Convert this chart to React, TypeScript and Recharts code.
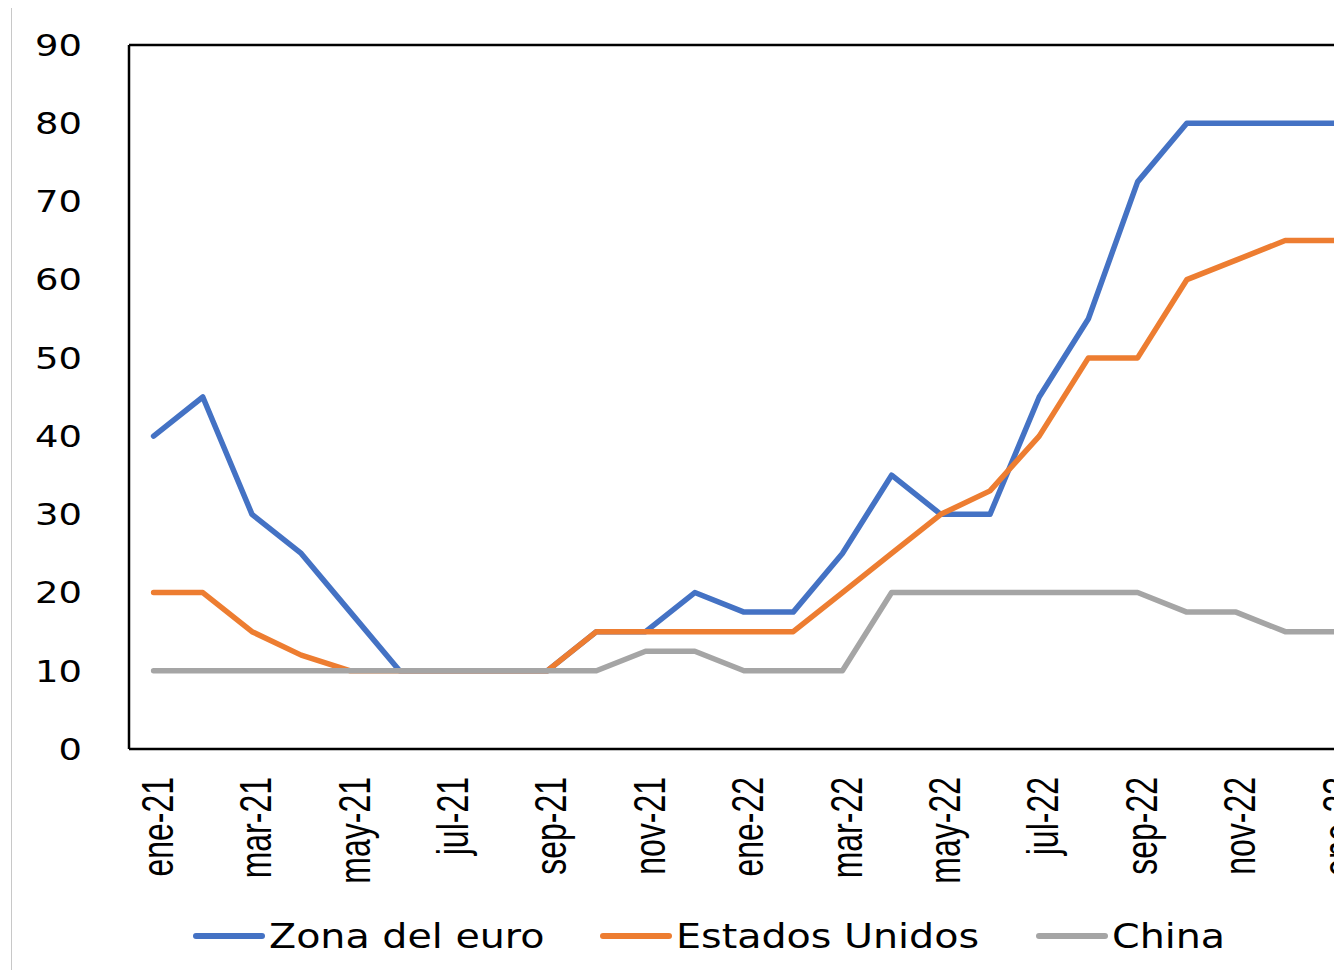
import { LineChart, Line, XAxis, YAxis, ReferenceLine } from "recharts"

const months = [
  "ene-21","feb-21","mar-21","abr-21","may-21","jun-21","jul-21","ago-21","sep-21","oct-21","nov-21","dic-21",
  "ene-22","feb-22","mar-22","abr-22","may-22","jun-22","jul-22","ago-22","sep-22","oct-22","nov-22","dic-22",
  "ene-23",
]
const zonaEuro = [40,45,30,25,17.5,10,10,10,10,15,15,20,17.5,17.5,25,35,30,30,45,55,72.5,80,80,80,80]
const estadosUnidos = [20,20,15,12,10,10,10,10,10,15,15,15,15,15,20,25,30,33,40,50,50,60,62.5,65,65]
const china = [10,10,10,10,10,10,10,10,10,10,12.5,12.5,10,10,10,20,20,20,20,20,20,17.5,17.5,15,15]
const yTicks = [0,10,20,30,40,50,60,70,80,90]

const SERIES = [
  { key: "zona", name: "Zona del euro", color: "#4472C4", values: zonaEuro },
  { key: "eeuu", name: "Estados Unidos", color: "#ED7D31", values: estadosUnidos },
  { key: "china", name: "China", color: "#A5A5A5", values: china },
]

const data = months.map((m, i) => {
  const row: Record<string, string | number> = { mes: m }
  SERIES.forEach(s => { row[s.key] = s.values[i] })
  return row
})

// the original image is stretched sideways, so the text is too
const TEXT_FONT = "DejaVu Sans"
const LEGEND_SIZE = 33
const LEGEND_STRETCH = 1.2

const measure = (txt: string, font: string) => {
  const ctx = document.createElement("canvas").getContext("2d")
  if (!ctx) return txt.length * 20
  ctx.font = font
  return ctx.measureText(txt).width
}

const YTick = ({ x, y, payload }: any) => (
  <text transform={`translate(${x},${y}) scale(1.23,1)`} textAnchor="end" dy="0.36em"
    fontFamily={TEXT_FONT} fontSize={30} fill="#000">
    {payload.value}
  </text>
)

const XTick = ({ x, y, payload }: any) => (
  <g transform={`translate(${x + 3},${y}) scale(1.4,1)`}>
    <text transform="rotate(-90)" textAnchor="end" dy="0.36em"
      fontFamily="Liberation Sans" fontSize={32} fill="#000">
      {payload.value}
    </text>
  </g>
)

export default function App() {
  return (
    <div style={{ position: "relative", width: 1334, height: 962, overflow: "hidden" }}>
      <div style={{ position: "absolute", left: 3, top: 0, width: 1, height: 962, background: "#c8c8c8" }} />
      <LineChart width={1400} height={891} data={data} margin={{ top: 37, right: 49, bottom: 0, left: 0 }}>
        <XAxis dataKey="mes" interval={1} tickLine={false} tickMargin={22} height={150}
          padding={{ left: 24.6, right: 24.6 }}
          axisLine={{ stroke: "#000", strokeWidth: 2.5 }} tick={<XTick />} />
        <YAxis domain={[0, 90]} ticks={yTicks} width={121} tickLine={false} tickMargin={41}
          axisLine={{ stroke: "#000", strokeWidth: 2.5 }} tick={<YTick />} />
        <ReferenceLine y={90} stroke="#000" strokeWidth={2.5} />
        {SERIES.map(s => (
          <Line key={s.key} dataKey={s.key} name={s.name} type="linear" stroke={s.color} strokeWidth={5.5}
            strokeLinecap="round" strokeLinejoin="round" dot={false} isAnimationActive={false} />
        ))}
      </LineChart>

      {/* leyenda propia, texto estirado como en el original */}
      <div style={{ display: "flex", alignItems: "center", height: 74, paddingLeft: 185, gap: 56 }}>
        {SERIES.map(s => {
          const w = measure(s.name, `${LEGEND_SIZE}px "${TEXT_FONT}"`) * LEGEND_STRETCH
          return (
            <div key={s.key} style={{ display: "flex", alignItems: "center" }}>
              <span style={{ width: 72, height: 6, borderRadius: 3, background: s.color, marginRight: 4 }} />
              <span style={{ display: "inline-block", width: w, whiteSpace: "nowrap" }}>
                <span style={{ display: "inline-block", transform: `scaleX(${LEGEND_STRETCH})`, transformOrigin: "left center",
                  fontFamily: TEXT_FONT, fontSize: LEGEND_SIZE, color: "#000" }}>
                  {s.name}
                </span>
              </span>
            </div>
          )
        })}
      </div>
    </div>
  )
}
